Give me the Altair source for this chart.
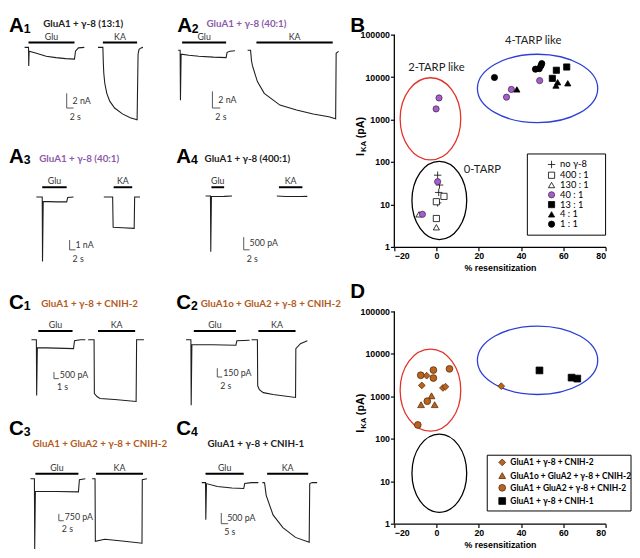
import altair as alt
import pandas as pd

SANS = "Liberation Sans"
CAL = "Lato"
PURPLE = "#8d5aa9"
ORANGE = "#b35a1b"
PT_PURPLE = "#a55fc7"
PT_ORANGE = "#b8641f"

# ---------------- Current traces (time in s, current in nA or pA; inward negative) -------------
A1_glu_t = [4.57, 5.71, 5.77, 5.89, 8.0, 10.86, 13.71, 16.57, 19.14, 19.43, 20.29, 22.0]
A1_glu_i = [0, 0, -2.53, -0.53, -0.8, -1.2, -1.4, -1.53, -1.6, -0.53, -0.07, 0]
A1_ka_t = [26.0, 27.43, 27.57, 27.71, 28.0, 28.57, 29.43, 30.86, 33.14, 35.43, 37.43, 37.71, 38.0, 38.57, 39.14]
A1_ka_i = [0, 0, -2.27, -3.6, -4.93, -6.27, -7.33, -8.27, -9.07, -9.6, -9.87, -0.93, -0.27, -0.07, 0]
A1_app = [5.71, 19.14, 27.43, 37.43]

A2_glu_t = [0.25, 0.75, 0.83, 1.0, 3.0, 5.5, 9.25, 12.5, 12.75, 13.5, 14.75]
A2_glu_i = [0, 0, -6.0, -0.47, -0.59, -0.71, -0.82, -0.88, -0.24, -0.12, -0.06]
A2_ka_t = [18.0, 18.75, 19.0, 19.25, 20.5, 22.25, 26.25, 30.5, 34.75, 38.75, 40.5, 40.63, 41.25]
A2_ka_i = [0, 0, -1.29, -1.88, -3.76, -5.18, -6.59, -7.18, -7.65, -8.0, -8.24, -0.35, -0.12]
A2_app = [1.25, 12.5, 20.25, 39.75]

A3_glu_t = [9.33, 11.33, 11.43, 11.67, 16.0, 19.67, 20.0, 22.0]
A3_glu_i = [0, 0, -6.6, -0.45, -0.5, -0.5, -0.05, 0]
A3_ka_t = [32.33, 35.33, 35.5, 38.67, 42.67, 42.83, 44.67]
A3_ka_i = [0, 0, -3.1, -3.15, -3.2, 0, 0]
A3_app = [11.33, 19.67, 35.67, 42.0]

A4_glu_t = [10.0, 11.67, 11.77, 12.0, 16.33, 19.0]
A4_glu_i = [0, 0, -2192, -19, -12, 0]
A4_ka_t = [34.3, 37.33, 42.33, 44.67]
A4_ka_i = [0, -19, -19, -12]
A4_app = [12.0, 16.33, 35.0, 43.0]

C1_glu_t = [4.6, 5.6, 5.66, 5.8, 9.6, 13.2, 13.4, 14.6, 15.6]
C1_glu_i = [0, 0, -4275, -600, -638, -675, -75, 0, 0]
C1_ka_t = [16.2, 17.4, 17.46, 18.0, 18.6, 21.6, 26.0, 26.1, 27.6]
C1_ka_i = [0, 0, -4125, -4350, -4500, -4575, -4725, 0, 0]
C1_app = [6.0, 13.0, 18.2, 25.8]

C2_glu_t = [4.0, 6.0, 6.12, 6.4, 14.8, 24.4, 24.8, 30.0]
C2_glu_i = [0, 0, -1119, -83, -83, -92, -17, -8]
C2_ka_t = [30.8, 33.2, 33.32, 34.0, 35.6, 39.6, 48.8, 48.92, 50.8, 53.6]
C2_ka_i = [0, 0, -785, -852, -902, -935, -985, -150, -67, -17]
C2_app = [7.2, 24.4, 33.6, 48.8]

C3_glu_t = [8.8, 10.4, 10.52, 10.8, 19.2, 28.4, 28.8, 31.2]
C3_glu_i = [0, 0, -7704, -1391, -1391, -1445, -107, 0]
C3_ka_t = [34.0, 35.2, 35.32, 39.2, 47.2, 54.4, 54.52, 56.4]
C3_ka_i = [0, 0, -6848, -6634, -6848, -7062, -107, 0]
C3_app = [10.8, 28.4, 35.6, 54.8]

C4_glu_t = [18.6, 21.4, 21.6, 22.1, 30.0, 40.7, 49.3, 50.0, 55.0, 60.0]
C4_glu_i = [0, 0, -1729, -45, -182, -250, -273, -45, 0, 0]
C4_ka_t = [62.9, 64.3, 64.6, 65.7, 70.7, 77.9, 87.1, 97.1, 97.5, 99.3, 102.9]
C4_ka_i = [0, 0, -45, -592, -1502, -2093, -2548, -2776, -45, 0, 0]
C4_app = [21.4, 49.3, 66.4, 96.4]

# scale bars: amplitude, duration and their labels
SB_amp = {"A1": 2, "A2": 2, "A3": 1, "A4": 500, "C1": 500, "C2": 150, "C3": 750, "C4": 500}
SB_dur = {"A1": 2, "A2": 2, "A3": 2, "A4": 2, "C1": 1, "C2": 2, "C3": 2, "C4": 5}
SB_amp_lab = {"A1": "2 nA", "A2": "2 nA", "A3": "1 nA", "A4": "500 pA", "C1": "500 pA",
              "C2": "150 pA", "C3": "750 pA", "C4": "500 pA"}

# ---------------- Scatter data -------------
B_cond = (["no γ-8"] * 4 + ["400 : 1"] * 3 + ["130 : 1"] * 2 + ["40 : 1"] * 7
          + ["13 : 1"] * 3 + ["4 : 1"] * 4 + ["1 : 1"] * 5)
B_x = [0.5, 1.4, 1.0, 0.5,
       3.5, -0.1, -0.1,
       -8.3, -0.1,
       35.4, 33.1, 48.8, 1.15, -0.23, 0.5, -6.7,
       56.7, 61.6, 54.8,
       38.0, 56.5, 57.3, 62.1,
       27.4, 46.8, 48.6, 49.4, 49.8]
B_y = [48.9, 28.7, 19.2, 10.9,
       15.5, 11.6, 4.66,
       5.86, 2.9,
       5130, 3370, 8270, 3230, 1780, 34.4, 5.86,
       14500, 17300, 9340,
       5130, 6320, 7580, 7150,
       9800, 15400, 15800, 18500, 20800]
B_order = ["no γ-8", "400 : 1", "130 : 1", "40 : 1", "13 : 1", "4 : 1", "1 : 1"]

D_cond = (["GluA1 + γ-8 + CNIH-2"] * 5 + ["GluA1o + GluA2 + γ-8 + CNIH-2"] * 3
          + ["GluA1 + GluA2 + γ-8 + CNIH-2"] * 6 + ["GluA1 + γ-8 + CNIH-1"] * 3)
D_x = [-7.0, -4.7, 3.0, 4.2, 30.6,
       -2.4, -7.35, -0.9,
       -7.5, -1.5, -1.5, 6.1, -4.4, -8.9,
       48.7, 63.9, 66.6]
D_y = [1810, 3070, 1580, 1690, 1740,
       1030, 636, 636,
       3140, 4160, 2700, 4440, 770, 212,
       4080, 2760, 2620]
D_order = ["GluA1 + γ-8 + CNIH-2", "GluA1o + GluA2 + γ-8 + CNIH-2",
           "GluA1 + GluA2 + γ-8 + CNIH-2", "GluA1 + γ-8 + CNIH-1"]

# group ellipses: centre (data) ; semi-axes in px are styling
B_ell_x = [-2.9, 47.8, 1.3]
B_ell_y = [1040, 5400, 12.4]
D_ell_x = [-2.9, 47.8, 1.3]
D_ell_y = [1400, 7080, 15.5]
ELL_STYLE = [("#e3322b", 31, 42), ("#2b3fd6", 61.5, 35), ("black", 28, 40)]

B_notes = ["2-TARP like", "4-TARP like", "0-TARP"]
B_note_x = [-0.1, 45.7, 21.7]
B_note_y = [16500, 69000, 66]

# ---------------- Layout of trace panels -------------
TR = {
    "A1": dict(glu=(A1_glu_t, A1_glu_i), ka=(A1_ka_t, A1_ka_i), app=A1_app),
    "A2": dict(glu=(A2_glu_t, A2_glu_i), ka=(A2_ka_t, A2_ka_i), app=A2_app),
    "A3": dict(glu=(A3_glu_t, A3_glu_i), ka=(A3_ka_t, A3_ka_i), app=A3_app),
    "A4": dict(glu=(A4_glu_t, A4_glu_i), ka=(A4_ka_t, A4_ka_i), app=A4_app),
    "C1": dict(glu=(C1_glu_t, C1_glu_i), ka=(C1_ka_t, C1_ka_i), app=C1_app),
    "C2": dict(glu=(C2_glu_t, C2_glu_i), ka=(C2_ka_t, C2_ka_i), app=C2_app),
    "C3": dict(glu=(C3_glu_t, C3_glu_i), ka=(C3_ka_t, C3_ka_i), app=C3_app),
    "C4": dict(glu=(C4_glu_t, C4_glu_i), ka=(C4_ka_t, C4_ka_i), app=C4_app),
}
W1, W2 = 169, 175
LAY = {
    "A1": dict(W=W1, H=127, s=3.5, a=7.5, base=33, bar=28, sb=(16.86, -6.27), lt=0,
               title="GluA1 + γ-8  (13:1)", tc="#222", tx=35, ty=9),
    "A2": dict(W=W2, H=127, s=4.0, a=8.5, base=36, bar=28, sb=(9.0, -4.94), lt=0,
               title="GluA1 + γ-8  (40:1)", tc=PURPLE, tx=30, ty=9),
    "A3": dict(W=W1, H=150, s=3.0, a=10.0, base=57, bar=47, sb=(20.67, -4.4), lt=5,
               title="GluA1 + γ-8  (40:1)", tc=PURPLE, tx=31, ty=18),
    "A4": dict(W=W2, H=150, s=3.0, a=0.026, base=56, bar=47, sb=(23.0, -1615), lt=5,
               title="GluA1 + γ-8  (400:1)", tc="#222", tx=29, ty=18),
    "C1": dict(W=W1, H=129, s=5.0, a=1 / 75, base=51, bar=42, sb=(9.2, -2475), lt=3,
               title="GluA1 + γ-8 + CNIH-2", tc=ORANGE, tx=33, ty=14),
    "C2": dict(W=W2, H=129, s=2.5, a=1 / 16.7, base=51, bar=42, sb=(16.8, -485), lt=3,
               title="GluA1o + GluA2 + γ-8 + CNIH-2", tc=ORANGE, tx=25, ty=14),
    "C3": dict(W=W1, H=144, s=2.5, a=1 / 107, base=62, bar=57, sb=(20.4, -3850), lt=0,
               title="GluA1 + GluA2 + γ-8 + CNIH-2", tc=ORANGE, tx=24, ty=27),
    "C4": dict(W=W2, H=144, s=1.4, a=1 / 45.5, base=66, bar=57, sb=(32.9, -1411), lt=0,
               title="GluA1 + γ-8 + CNIH-1", tc="#222", tx=32, ty=27),
}

DUMMY = pd.DataFrame({"d": [0]})


def trace_panel(key):
    L, T = LAY[key], TR[key]
    W, H, s, a = L["W"], L["H"], L["s"], L["a"]
    xs = alt.Scale(domain=[0, W / s], nice=False, zero=False)
    ys = alt.Scale(domain=[-(H - L["base"]) / a, L["base"] / a], nice=False, zero=False)
    rows = []
    for seg, (tt, ii) in enumerate([T["glu"], T["ka"]]):
        for k, (t, i) in enumerate(zip(tt, ii)):
            rows.append({"seg": seg, "k": k, "t": t, "i": i})
    df = pd.DataFrame(rows)
    line = alt.Chart(df).mark_line(color="#1e1e1e", strokeWidth=1.1).encode(
        x=alt.X("t:Q", scale=xs, axis=None), y=alt.Y("i:Q", scale=ys, axis=None),
        detail="seg:N", order="k:Q")
    app = T["app"]
    bdf = pd.DataFrame({"lab": ["Glu", "KA"], "t0": [app[0], app[2]], "t1": [app[1], app[3]]})
    bdf["tm"] = (bdf["t0"] + bdf["t1"]) / 2
    bars = alt.Chart(bdf).mark_rule(color="black", strokeWidth=2).encode(
        x=alt.X("t0:Q", scale=xs, axis=None), x2="t1:Q", y=alt.value(L["bar"]))
    blab = alt.Chart(bdf).mark_text(font=CAL, fontSize=9, color="#333", baseline="alphabetic").encode(
        x=alt.X("tm:Q", scale=xs, axis=None), y=alt.value(L["bar"] - 3), text="lab:N")
    t0, itop = L["sb"]
    amp, dur = SB_amp[key], SB_dur[key]
    ibot = itop - amp
    sdf = pd.DataFrame({"x1": [t0, t0], "y1": [itop, ibot], "x2": [t0, t0 + dur], "y2": [ibot, ibot]})
    sbar = alt.Chart(sdf).mark_rule(color="#555", strokeWidth=1).encode(
        x=alt.X("x1:Q", scale=xs, axis=None), y=alt.Y("y1:Q", scale=ys, axis=None),
        x2="x2:Q", y2="y2:Q")
    ldf = pd.DataFrame({"x": [t0 + 6 / s, t0 + 3 / s], "y": [itop - amp / 2, ibot - 9 / a],
                        "txt": [SB_amp_lab[key], f"{dur} s"]})
    slab = alt.Chart(ldf).mark_text(font=CAL, fontSize=9, color="#333", align="left",
                                    baseline="middle").encode(
        x=alt.X("x:Q", scale=xs, axis=None), y=alt.Y("y:Q", scale=ys, axis=None), text="txt:N")
    letter = alt.Chart(DUMMY).mark_text(text=key[0], font=SANS, fontSize=21, fontWeight="bold",
                                        align="left", baseline="top", color="black").encode(
        x=alt.value(0), y=alt.value(L["lt"]))
    sub = alt.Chart(DUMMY).mark_text(text=key[1], font=SANS, fontSize=12.5, fontWeight="bold",
                                     align="left", baseline="alphabetic", color="black").encode(
        x=alt.value(15), y=alt.value(L["lt"] + 18))
    title = alt.Chart(DUMMY).mark_text(text=L["title"], font=CAL, fontSize=10, fontWeight="bold",
                                       align="left", baseline="middle", color=L["tc"]).encode(
        x=alt.value(L["tx"]), y=alt.value(L["ty"]))
    return alt.layer(line, bars, blab, sbar, slab, letter, sub, title).properties(width=W, height=H)


PLUS = "M-1.2,0L1.2,0M0,-1.2L0,1.2"
DEC = 43.4  # px per decade on the log axes


def ell_path(ax, by):
    m = max(ax, by)
    rx, ry = ax / m, by / m
    return (f"M{-rx:.3f},0A{rx:.3f},{ry:.3f},0,1,1,{rx:.3f},0"
            f"A{rx:.3f},{ry:.3f},0,1,1,{-rx:.3f},0Z"), 4 * m * m


def scatter_panel(letter_txt, cond, xs_, ys_, order, shapes, fills, strokes, ell_x, ell_y,
                  legend_xy, box, bold_leg, rowpad, head, letter_y, psize, notes=None):
    # head: empty room (px) kept above the 100000 tick inside the plot area
    ytop = 10 ** (5 + head / DEC)
    xsc = alt.Scale(domain=[-20, 80], nice=False, zero=False)
    ysc = alt.Scale(type="log", domain=[1, ytop], nice=False)
    xax = alt.Axis(values=[-20, 0, 20, 40, 60, 80], title="% resensitization", grid=False)
    yax = alt.Axis(values=[1, 10, 100, 1000, 10000, 100000], format="d", title=None, grid=False,
                   domain=False)
    layers = []
    ydom = pd.DataFrame({"x": [-20], "y0": [1], "y1": [100000]})
    layers.append(alt.Chart(ydom).mark_rule(color="black", strokeWidth=1.3).encode(
        x=alt.X("x:Q", scale=xsc, axis=xax), y=alt.Y("y0:Q", scale=ysc, axis=yax), y2="y1:Q"))
    for (col, ax, by), ex, ey in zip(ELL_STYLE, ell_x, ell_y):
        path, size = ell_path(ax, by)
        edf = pd.DataFrame({"x": [ex], "y": [ey]})
        layers.append(alt.Chart(edf).mark_point(shape=path, size=size, filled=False, stroke=col,
                                                strokeWidth=1.3, opacity=1).encode(
            x=alt.X("x:Q", scale=xsc, axis=xax), y=alt.Y("y:Q", scale=ysc, axis=yax)))
    pdf = pd.DataFrame({"cond": cond, "x": xs_, "y": ys_})
    leg = alt.Legend(title=None, orient="none", legendX=legend_xy[0], legendY=legend_xy[1] + head,
                     labelFont=CAL, labelFontSize=9.5 if not bold_leg else 8.6,
                     labelFontWeight="bold" if bold_leg else "normal", labelColor="black",
                     symbolSize=psize, symbolStrokeWidth=0.8,
                     rowPadding=rowpad, padding=0, labelOffset=4, symbolOpacity=1, labelLimit=300)
    layers.append(alt.Chart(pdf).mark_point(size=psize, strokeWidth=0.8, opacity=1).encode(
        x=alt.X("x:Q", scale=xsc, axis=xax), y=alt.Y("y:Q", scale=ysc, axis=yax),
        shape=alt.Shape("cond:N", scale=alt.Scale(domain=order, range=shapes), legend=leg),
        fill=alt.Fill("cond:N", scale=alt.Scale(domain=order, range=fills), legend=leg),
        stroke=alt.Stroke("cond:N", scale=alt.Scale(domain=order, range=strokes), legend=leg)))
    if notes is not None:
        ndf = pd.DataFrame({"t": notes[0], "x": notes[1], "y": notes[2]})
        layers.append(alt.Chart(ndf).mark_text(font=CAL, fontSize=11.5, color="#222").encode(
            x=alt.X("x:Q", scale=xsc, axis=xax), y=alt.Y("y:Q", scale=ysc, axis=yax), text="t:N"))
    layers.append(alt.Chart(DUMMY).mark_rect(fill="transparent", stroke="black", strokeWidth=1).encode(
        x=alt.value(box[0]), x2=alt.value(box[1]), y=alt.value(box[2] + head),
        y2=alt.value(box[3] + head)))
    layers.append(alt.Chart(DUMMY).mark_text(text=letter_txt, font=SANS, fontSize=21, fontWeight="bold",
                                             align="left", baseline="top").encode(
        x=alt.value(-45), y=alt.value(letter_y)))
    # rotated y-title I_KA (pA)
    for txt, xv, yv, fs in [("I", -34, 124, 11), ("KA", -31, 120, 8), ("(pA)", -34, 106, 11)]:
        layers.append(alt.Chart(DUMMY).mark_text(text=txt, font=SANS, fontSize=fs, fontWeight="bold",
                                                 angle=270, align="left", baseline="middle").encode(
            x=alt.value(xv), y=alt.value(yv + head)))
    return alt.layer(*layers).properties(width=216, height=217 + head).resolve_scale(
        shape="independent", fill="independent", stroke="independent")


B = scatter_panel("B", B_cond, B_x, B_y, B_order,
                  [PLUS, "square", "triangle-up", "circle", "square", "triangle-up", "circle"],
                  ["black", "white", "white", PT_PURPLE, "black", "black", "black"],
                  ["black", "black", "black", "#4a2a5a", "black", "black", "black"],
                  B_ell_x, B_ell_y, (156, 128), (136, 216, 122, 205), False, -1,
                  head=20, letter_y=0, psize=40, notes=(B_notes, B_note_x, B_note_y))
D = scatter_panel("D", D_cond, D_x, D_y, D_order,
                  ["diamond", "triangle-up", "circle", "square"],
                  [PT_ORANGE, PT_ORANGE, PT_ORANGE, "black"],
                  ["#5a300c", "#5a300c", "#5a300c", "black"],
                  D_ell_x, D_ell_y, (106, 150), (95, 242, 147, 204), True, 2.5,
                  head=0, letter_y=-31, psize=48)

left = alt.vconcat(
    alt.hconcat(trace_panel("A1"), trace_panel("A2"), spacing=0),
    alt.hconcat(trace_panel("A3"), trace_panel("A4"), spacing=0),
    alt.hconcat(trace_panel("C1"), trace_panel("C2"), spacing=0),
    alt.hconcat(trace_panel("C3"), trace_panel("C4"), spacing=0),
    spacing=0)
right = alt.vconcat(B, D, spacing=7).resolve_scale(
    shape="independent", fill="independent", stroke="independent").resolve_legend(
    shape="independent", fill="independent", stroke="independent")

chart = alt.hconcat(left, right, spacing=0).resolve_scale(
    shape="independent", fill="independent", stroke="independent").resolve_legend(
    shape="independent", fill="independent", stroke="independent").properties(padding=0).configure_view(
    stroke="transparent").configure_concat(spacing=0).configure_axis(
    domainColor="black", domainWidth=1.3, tickColor="black", tickWidth=1.2, tickSize=4,
    labelFont=SANS, labelFontWeight="bold", labelFontSize=9, labelColor="black", labelPadding=1,
    titleFont=SANS, titleFontWeight="bold", titleFontSize=9, titleColor="black", titlePadding=3)

chart.save("out.html", embed_options={"renderer": "svg", "actions": False})
